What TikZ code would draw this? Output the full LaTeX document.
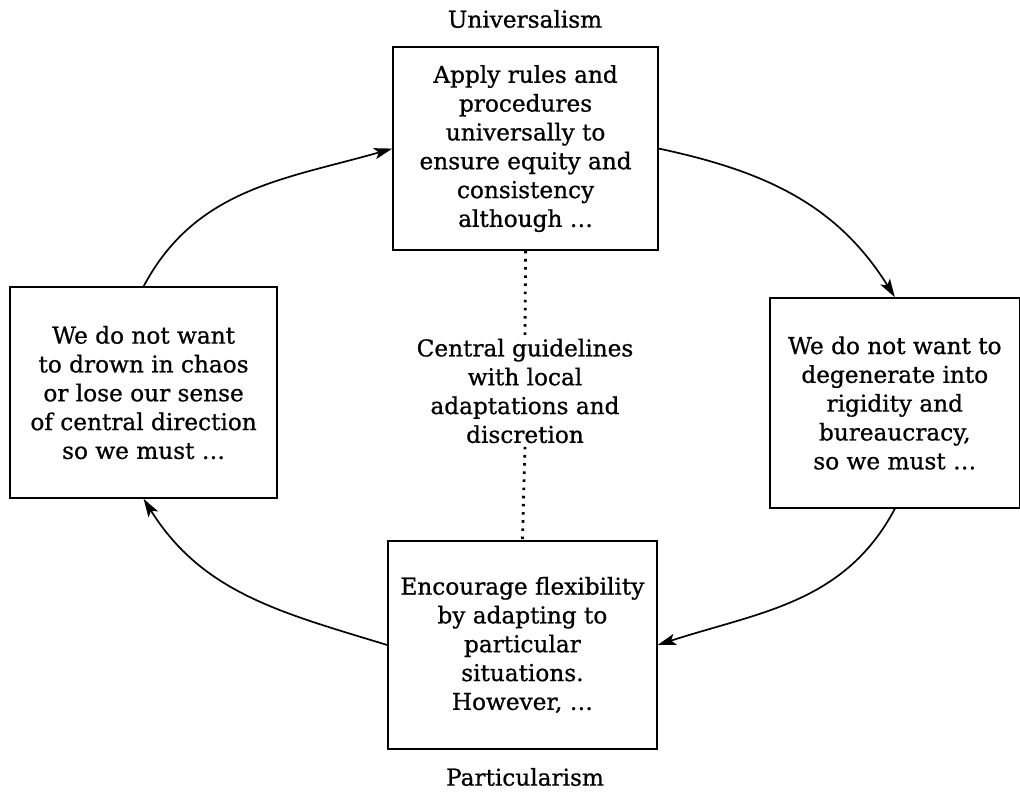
\documentclass[tikz,border=0pt]{standalone}
\usepackage{fontspec}
\setmainfont[FakeBold=0.8]{DejaVu Serif}
\usepackage{tikz}
\usetikzlibrary{positioning}
\usetikzlibrary{arrows}
\usetikzlibrary{arrows.meta}
\tikzset{every picture/.style={line width=1.2pt, >={Stealth[length=13pt,width=8pt,inset=3pt]}}}
\tikzset{stancebox/.style={draw, align=center, font=\fontsize{16.5}{20.5}\selectfont, inner sep=2pt}}
\tikzset{polelabel/.style={font=\fontsize{16.5}{20}\selectfont}}
\tikzset{linkdots/.style={line width=2pt, dash pattern=on 1.8pt off 4pt}}

\begin{document}
\begin{tikzpicture}
            \useasboundingbox (0,0) rectangle (25.5,19.925);
            \node[stancebox, minimum width=6.62cm, minimum height=5.07cm] (univ) at (13.14,16.21) {Apply rules and\\procedures\\universally to\\ensure equity and\\consistency\\although \dots};
            \node[stancebox, minimum width=6.67cm, minimum height=5.27cm] (chaos) at (3.59,10.11) {We do not want\\to drown in chaos\\or lose our sense\\of central direction\\so we must \dots};
            \node[stancebox, minimum width=6.25cm, minimum height=5.25cm] (rigid) at (22.37,9.85) {We do not want to\\degenerate into\\rigidity and\\bureaucracy,\\so we must \dots};
            \node[stancebox, minimum width=6.72cm, minimum height=5.2cm] (part) at (13.06,3.8) {Encourage flexibility\\by adapting to\\particular\\situations.\\However, \dots};
            \node[polelabel] (ulabel) at (13.125,19.45) {Universalism};
            \node[polelabel] (plabel) at (13.125,0.5) {Particularism};
            \node[stancebox, draw=none] (middle) at (13.125,10.15) {Central guidelines\\with local\\adaptations and\\discretion};

            \draw[linkdots] (univ.south) -- (middle.north);
            \draw[linkdots] (middle.south) -- (part.north);

            \draw[->] (chaos.north) [out=62,in=196] to (univ.west);
            \draw[->] (univ.east) [out=-12,in=122] to (rigid.north);
            \draw[->] (rigid.south) [out=-118,in=18] to (part.east);
            \draw[->] (part.west) [out=163,in=-58] to (chaos.south);
        \end{tikzpicture}
\end{document}
